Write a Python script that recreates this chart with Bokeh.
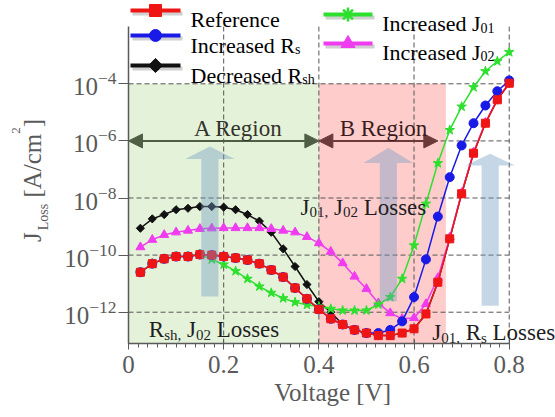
import math

from bokeh.plotting import figure
from bokeh.layouts import row
from bokeh.models import Range1d, FixedTicker, Label, Arrow, NormalHead, Div
from bokeh.embed import file_html
from bokeh.resources import INLINE

FONT = "Liberation Serif"
AXIS_GRAY = "#5a5a5a"

# ---------------------------------------------------------------- data
# Loss current density J_Loss (log10 of A/cm^2) versus voltage
voltage = [0.025, 0.05, 0.075, 0.1, 0.125, 0.15, 0.175, 0.2, 0.225, 0.25,
           0.275, 0.3, 0.325, 0.35, 0.375, 0.4, 0.425, 0.45, 0.475, 0.5,
           0.525, 0.55, 0.575, 0.6, 0.625, 0.65, 0.675, 0.7, 0.725, 0.75,
           0.775, 0.8]

log_j_reference = [-10.60, -10.30, -10.13, -10.05, -10.05, -9.98, -10.00, -10.05, -10.10, -10.17,
                   -10.30, -10.52, -10.77, -11.15, -11.53, -11.90, -12.23, -12.43, -12.62, -12.73,
                   -12.82, -12.82, -12.73, -12.58, -12.06, -10.95, -9.43, -7.85, -6.43, -5.38,
                   -4.56, -3.98]
log_j_inc_rs = [-10.60, -10.30, -10.13, -10.05, -10.05, -9.98, -10.00, -10.05, -10.10, -10.17,
                -10.30, -10.52, -10.77, -11.15, -11.53, -11.90, -12.23, -12.43, -12.62, -12.73,
                -12.73, -12.62, -12.32, -11.47, -10.15, -8.65, -7.27, -6.16, -5.38, -4.76,
                -4.26, -3.88]
log_j_dec_rsh = [-9.06, -8.73, -8.58, -8.41, -8.36, -8.30, -8.30, -8.32, -8.41, -8.58,
                 -8.81, -9.20, -9.78, -10.40, -11.03, -11.63, -12.00, -12.43, -12.62, -12.73,
                 -12.82, -12.82, -12.73, -12.58, -12.06, -10.95, -9.43, -7.85, -6.43, -5.38,
                 -4.56, -3.98]
log_j_inc_j01 = [-10.60, -10.30, -10.13, -10.05, -10.05, -9.98, -10.15, -10.33, -10.56, -10.83,
                 -11.10, -11.32, -11.51, -11.65, -11.74, -11.80, -11.88, -11.94, -11.94, -11.94,
                 -11.73, -11.47, -10.83, -9.66, -8.20, -6.78, -5.62, -4.80, -4.12, -3.56,
                 -3.21, -2.89]
log_j_inc_j02 = [-9.72, -9.46, -9.29, -9.20, -9.14, -9.08, -9.06, -9.05, -9.05, -9.05,
                 -9.05, -9.08, -9.14, -9.20, -9.36, -9.58, -9.88, -10.28, -10.75, -11.18,
                 -11.68, -12.03, -12.23, -12.20, -11.71, -10.80, -9.38, -7.82, -6.40, -5.36,
                 -4.55, -3.97]

x_ticks = [0, 0.2, 0.4, 0.6, 0.8]
x_tick_labels = ["0", "0.2", "0.4", "0.6", "0.8"]
x_minor_ticks = [round(0.02 * i, 2) for i in range(41)]
y_ticks = [1e-12, 1e-10, 1e-8, 1e-6, 1e-4]

region_a = (0.0, 0.4)      # shunt / J02 dominated
region_b = (0.4, 0.667)    # J01 / J02 dominated
region_top = 1e-4
axis_top = 1e-2

# ---------------------------------------------------------------- layout
W, H = 555, 417
TITLE_W = 60                       # strip holding the rotated y-axis title
FR_L, FR_R, FR_T, FR_B = 128, 555, 0, 343   # plot frame in page pixels
PX_PER_V = 475.9
X_MAX = (FR_R - FR_L) / PX_PER_V
LOG_MIN, LOG_MAX = -13.096, -1.082

p = figure(width=W - TITLE_W, height=H, output_backend="svg", toolbar_location=None,
           x_range=Range1d(0, X_MAX), y_range=Range1d(10 ** LOG_MIN, 10 ** LOG_MAX),
           y_axis_type="log",
           min_border_left=FR_L - TITLE_W, min_border_right=W - FR_R,
           min_border_top=FR_T, min_border_bottom=H - FR_B)
p.outline_line_color = None
p.background_fill_color = "white"
p.border_fill_color = "white"
p.xgrid.visible = False
p.ygrid.visible = False


def px_x(px):
    """page pixel column -> voltage"""
    return (px - FR_L) / (FR_R - FR_L) * X_MAX


def px_y(py):
    """page pixel row -> current density"""
    return 10 ** (LOG_MAX - (py - FR_T) / (FR_B - FR_T) * (LOG_MAX - LOG_MIN))


# axes
xa = p.xaxis[0]
xa.ticker = FixedTicker(ticks=x_ticks, minor_ticks=x_minor_ticks)
xa.major_label_overrides = {t: s for t, s in zip(x_ticks, x_tick_labels)}
xa.bounds = (x_ticks[0], x_ticks[-1])
# trailing no-break spaces keep the title centred under the data area
xa.axis_label = "Voltage [V]" + "\u00a0" * 3
xa.axis_label_text_font = FONT
xa.axis_label_text_font_size = "25px"
xa.axis_label_text_font_style = "normal"
xa.axis_label_text_color = AXIS_GRAY
xa.axis_label_standoff = 3
xa.major_label_text_font = FONT
xa.major_label_text_font_size = "25px"
xa.major_label_text_color = AXIS_GRAY
xa.major_label_standoff = 6
xa.axis_line_color = AXIS_GRAY
xa.axis_line_width = 1.5
xa.major_tick_line_color = AXIS_GRAY
xa.minor_tick_line_color = AXIS_GRAY
xa.major_tick_in, xa.major_tick_out = 4, 6
xa.minor_tick_in, xa.minor_tick_out = 0, 4

ya = p.yaxis[0]
ya.ticker = FixedTicker(ticks=y_ticks, minor_ticks=[])
ya.bounds = (10 ** LOG_MIN, axis_top)
ya.major_label_text_font = FONT
ya.major_label_text_font_size = "25px"
ya.major_label_text_color = AXIS_GRAY
ya.major_label_standoff = 2
ya.axis_line_color = AXIS_GRAY
ya.axis_line_width = 1.5
ya.major_tick_line_color = AXIS_GRAY
ya.major_tick_in, ya.major_tick_out = 0, 10
ya.minor_tick_in, ya.minor_tick_out = 0, 0

# shaded operating regions
p.quad(left=[region_a[0], region_b[0]], right=[region_a[1], region_b[1]],
       bottom=10 ** LOG_MIN, top=region_top,
       fill_color=["#e5f2da", "#ffcccc"], line_color=None)

# dashed grid, limited to the axis extents
grid_style = dict(line_color="#555555", line_width=1, line_dash="5 3")
gx = [t for t in x_ticks if t > 0]
p.segment(x0=gx, x1=gx, y0=[10 ** LOG_MIN] * len(gx), y1=[axis_top] * len(gx), **grid_style)
p.segment(x0=[x_ticks[0]] * len(y_ticks), x1=[x_ticks[-1]] * len(y_ticks),
          y0=y_ticks, y1=y_ticks, **grid_style)

# ---------------------------------------------------------------- curves
series = [
    # (values, colour, marker, marker size, legend parts, legend slot)
    (log_j_dec_rsh, "#111111", "diamond", 8, [("Decreased R", 0), ("sh", 1)], (0, 65, 75)),
    (log_j_inc_j02, "#f03cf0", "triangle", 9, [("Increased J", 0), ("02", 1)], (1, 43, 51.7)),
    (log_j_inc_j01, "#2ee02e", "star", 10, [("Increased J", 0), ("01", 1)], (1, 14, 23.3)),
    (log_j_inc_rs, "#1a1ae6", "circle", 9, [("Increased R", 0), ("s", 1)], (0, 35, 45)),
    (log_j_reference, "#f01515", "square", 8, [("Reference", 0)], (0, 10, 19.3)),
]

for vals, color, marker, msize, _, _ in series:
    j = [10 ** v for v in vals]
    p.line(voltage, j, line_color=color, line_width=1.5)
    if marker == "diamond":
        p.scatter(voltage, j, marker="square", angle=math.pi / 4, size=msize * 0.72,
                  fill_color=color, line_color=color)
    else:
        p.scatter(voltage, j, marker=marker, size=msize, fill_color=color, line_color=color)

# ---------------------------------------------------------------- translucent trend arrows
# (centre voltage, log10 bottom, log10 head base, log10 tip)
trend_arrows = [(0.171, -11.45, -6.63, -6.20),
                (0.546, -11.62, -6.77, -6.24),
                (0.760, -11.77, -6.86, -6.45)]
SHAFT_HALF, HEAD_HALF = 0.018, 0.052
xs, ys = [], []
for xc, yb, yh, yt in trend_arrows:
    xs.append([xc - SHAFT_HALF, xc + SHAFT_HALF, xc + SHAFT_HALF, xc + HEAD_HALF, xc,
               xc - HEAD_HALF, xc - SHAFT_HALF])
    ys.append([10 ** yb, 10 ** yb, 10 ** yh, 10 ** yh, 10 ** yt, 10 ** yh, 10 ** yh])
p.patches(xs, ys, fill_color="#6e9bc3", fill_alpha=0.4, line_color=None)

# ---------------------------------------------------------------- region arrows
for (x0, x1), col in [(region_a, "#4f5f45"), ((0.4, 0.65), "#6b3a3a")]:
    p.add_layout(Arrow(x_start=x0, y_start=1e-6, x_end=x1, y_end=1e-6,
                       line_color=col, line_width=2,
                       start=NormalHead(size=14, fill_color=col, line_color=col),
                       end=NormalHead(size=14, fill_color=col, line_color=col)))

# ---------------------------------------------------------------- text helpers
ADV = {" ": 250, ",": 250, "0": 500, "1": 500, "2": 500, "A": 722, "B": 667, "D": 722,
       "I": 333, "J": 389, "L": 611, "R": 667, "a": 444, "c": 444, "d": 500, "e": 444,
       "f": 333, "g": 500, "h": 500, "i": 278, "n": 500, "o": 500, "r": 333, "s": 389,
       "/": 278, "[": 333, "]": 333, "m": 778}


def advance(txt, size):
    return sum(ADV.get(c, 500) for c in txt) * size / 1000.0


def rich_text(px, py, parts, size, sub_size, sub_drop, color):
    """Left-aligned text with subscripts, baseline at page pixel (px, py)."""
    off = 0.0
    for txt, is_sub in parts:
        fs = sub_size if is_sub else size
        lead = len(txt) - len(txt.lstrip(" "))
        off += advance(" " * lead, fs)
        body = txt.lstrip(" ")
        p.add_layout(Label(x=px_x(px), y=px_y(py), x_offset=off,
                           y_offset=-sub_drop if is_sub else 0,
                           text=body, text_font=FONT, text_font_size=f"{fs}px",
                           text_color=color, text_align="left",
                           text_baseline="alphabetic"))
        off += advance(body, fs)


# region captions
for txt, cx, col in [("A Region", 238, "#33332a"), ("B Region", 383, "#3a1c1c")]:
    p.add_layout(Label(x=px_x(cx), y=px_y(128), text=txt, text_font=FONT,
                       text_font_size="23px", text_color=col, text_align="center",
                       text_baseline="alphabetic"))

rich_text(300, 206.7, [("J", 0), ("01,", 1), (" J", 0), ("02", 1), (" Losses", 0)],
          23, 15, 5, "#1e1e1e")
rich_text(148.3, 329, [("R", 0), ("sh,", 1), (" J", 0), ("02", 1), (" Losses", 0)],
          23, 15, 5, "#1e1e1e")
rich_text(431.7, 332, [("J", 0), ("01,", 1), (" R", 0), ("s", 1), (" Losses", 0)],
          23, 15, 5, "#1e1e1e")

# ---------------------------------------------------------------- legend
cols = [(130, 180, 190), (323, 372, 381.7)]
for vals, color, marker, msize, parts, (ci, ly, tb) in series:
    x0, x1, tx = cols[ci]
    p.line([px_x(x0 + 2), px_x(x1 + 2)], [px_y(ly + 3), px_y(ly + 3)],
           line_color="#d0d0d0", line_width=4)
    p.line([px_x(x0), px_x(x1)], [px_y(ly), px_y(ly)], line_color=color, line_width=4)
    xm, ym = [px_x((x0 + x1) / 2)], [px_y(ly)]
    if marker == "diamond":
        p.scatter(xm, ym, marker="square", angle=math.pi / 4, size=10,
                  fill_color=color, line_color=color)
    elif marker == "star":
        p.scatter(xm, ym, marker="asterisk", size=14, line_color=color, line_width=2.5)
    elif marker == "triangle":
        p.scatter(xm, ym, marker="triangle", size=14, fill_color=color, line_color=color)
    else:
        p.scatter(xm, ym, marker=marker, size=12, fill_color=color, line_color=color)
    rich_text(tx, tb, parts, 22, 14, 4, "#000000")

# ---------------------------------------------------------------- rotated y-axis title
# text runs bottom-to-top; its start sits at row 242, baseline at column 41
y_title_html = (
    f'<div style="position:relative;width:{TITLE_W}px;height:{H}px;margin:0;padding:0;">'
    '<div style="position:absolute;left:20px;top:242px;transform-origin:0 0;'
    'transform:rotate(-90deg);white-space:nowrap;'
    f"font-family:'{FONT}';font-size:25px;line-height:1;color:{AXIS_GRAY};\">"
    'J<span style="font-size:14px;position:relative;top:7px;margin-left:2px;">Loss</span>'
    ' [A/cm<span style="font-size:13px;position:relative;top:-21px;">2</span>]'
    '</div></div>'
)
y_title = Div(text=y_title_html, width=TITLE_W, height=H, margin=0)

layout = row(y_title, p, spacing=0)
open("out.html", "w").write(file_html(layout, INLINE))
